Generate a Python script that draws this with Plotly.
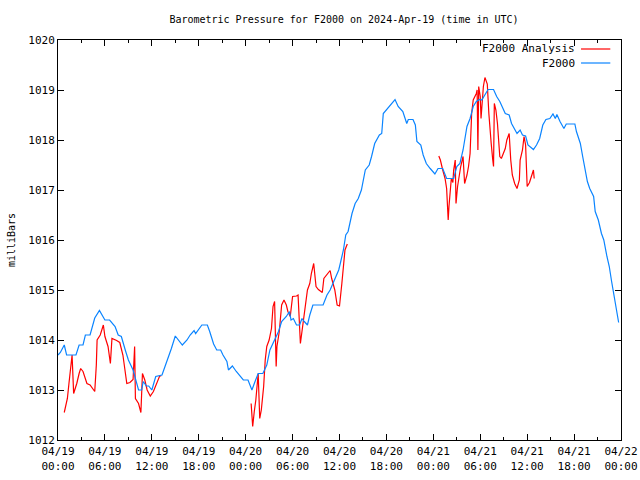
import plotly.graph_objects as go

# ---- data (hours since 2024-04-19 00:00 UTC, pressure in mb) ----
f2000_hours = [0.0, 0.3, 0.8, 1.1, 2.3, 2.7, 3.2, 3.5, 4.1, 4.7, 5.3, 5.6, 6.0, 6.6, 7.3, 7.7, 8.1, 8.6, 9.0, 9.6,
               10.3, 10.7, 10.9, 11.3, 11.6, 12.0, 12.5, 13.3, 13.7, 14.1, 14.5, 15.0, 15.4, 15.9, 16.5, 16.9, 17.4, 17.6,
               18.4, 19.1, 19.4, 19.9, 20.3, 20.8, 21.1, 21.6, 21.8, 22.3, 22.8, 23.3, 23.7, 24.3, 24.8, 25.2, 25.6, 26.2,
               26.7, 27.1, 27.7, 28.2, 28.6, 29.2, 29.6, 29.8, 30.1, 30.5, 30.9, 31.2, 31.5, 31.9, 32.2, 32.6, 33.9, 34.4,
               34.8, 35.4, 35.9, 36.1, 36.5, 36.8, 37.1, 37.6, 38.0, 38.4, 38.8, 39.3, 39.8, 40.1, 40.5, 41.1, 41.4, 41.6,
               42.0, 42.5, 43.1, 43.5, 44.1, 44.6, 44.8, 45.4, 45.7, 45.9, 46.4, 46.7, 47.1, 47.6, 48.2, 48.6, 49.2, 49.7,
               50.6, 51.0, 51.4, 51.8, 52.3, 52.7, 53.1, 53.5, 53.9, 54.2, 55.0, 55.7, 56.1, 56.5, 57.2, 57.7, 58.0, 58.7,
               59.1, 59.4, 59.8, 60.1, 60.8, 61.2, 61.6, 62.0, 62.4, 62.9, 63.3, 63.6, 63.8, 64.2, 64.7, 65.0, 66.1, 66.3,
               66.8, 67.1, 67.4, 67.7, 68.0, 68.5, 68.7, 69.1, 69.5, 69.8, 70.2, 70.5, 70.8, 71.1, 71.3, 71.6, 71.7]
f2000_mb = [1013.70, 1013.75, 1013.90, 1013.70, 1013.70, 1013.90, 1013.90, 1014.10, 1014.10, 1014.44, 1014.59, 1014.52,
            1014.40, 1014.40, 1014.27, 1014.10, 1014.07, 1013.80, 1013.60, 1013.40, 1013.00, 1013.00, 1013.17, 1013.08,
            1013.08, 1013.00, 1013.27, 1013.30, 1013.47, 1013.63, 1013.83, 1014.08, 1014.00, 1013.90, 1014.00, 1014.10,
            1014.19, 1014.13, 1014.30, 1014.30, 1014.17, 1013.92, 1013.80, 1013.80, 1013.70, 1013.57, 1013.40, 1013.48,
            1013.37, 1013.27, 1013.20, 1013.20, 1013.00, 1013.17, 1013.33, 1013.33, 1013.50, 1013.80, 1014.00, 1014.17,
            1014.37, 1014.47, 1014.57, 1014.40, 1014.43, 1014.30, 1014.30, 1014.43, 1014.37, 1014.30, 1014.50, 1014.70,
            1014.70, 1014.90, 1015.00, 1015.23, 1015.40, 1015.53, 1015.80, 1016.10, 1016.17, 1016.53, 1016.73, 1016.83,
            1017.00, 1017.40, 1017.50, 1017.67, 1017.93, 1018.10, 1018.13, 1018.53, 1018.61, 1018.70, 1018.81, 1018.67,
            1018.57, 1018.33, 1018.41, 1018.41, 1018.30, 1017.97, 1017.90, 1017.70, 1017.53, 1017.43, 1017.32, 1017.43,
            1017.43, 1017.23, 1017.23, 1017.47, 1017.53, 1017.80, 1018.27, 1018.43, 1018.67, 1018.77, 1018.81, 1018.80,
            1019.01, 1019.01, 1018.87, 1018.77, 1018.53, 1018.50, 1018.33, 1018.13, 1018.20, 1018.10, 1018.08, 1017.90,
            1017.81, 1017.90, 1018.03, 1018.30, 1018.41, 1018.43, 1018.52, 1018.43, 1018.51, 1018.37, 1018.23, 1018.32,
            1018.32, 1018.17, 1017.93, 1017.67, 1017.43, 1017.17, 1017.03, 1016.87, 1016.57, 1016.40, 1016.13, 1016.00,
            1015.67, 1015.47, 1015.17, 1014.87, 1014.67, 1014.40, 1014.35]

# Analysis series; None marks gaps in the record
analysis_hours = [0.8, 1.0, 1.2, 1.4, 1.6, 1.8, 2.0, 2.4, 2.7, 2.9, 3.2, 3.7, 4.1, 4.7, 4.9, 5.0, 5.4, 5.8, 6.0, 6.4,
                  6.7, 6.9, 7.5, 7.9, 8.3, 8.6, 8.8, 9.2, 9.6, 9.8, 9.9, 10.3, 10.6, 10.8, 11.1, 11.4, 11.8, 12.2, 12.6,
                  13.0, 13.2, None,
                  24.7, 24.9, 25.1, 25.3, 25.6, 25.8, 26.0, 26.3, 26.5, 26.7, 27.0, 27.3, 27.5, 27.7, 27.9, 28.0, 28.3,
                  28.6, 28.9, 29.2, 29.4, 29.7, 30.0, 30.5, 30.7, 30.9, 31.0, 31.2, 31.5, 31.7, 31.9, 32.2, 32.4, 32.7,
                  33.0, 33.3, 33.8, 34.0, 34.4, 34.8, 35.0, 35.4, 35.7, 36.0, 36.3, 36.5, 36.7, 37.0, None,
                  48.7, 48.9, 49.2, 49.5, 49.7, 49.9, 50.0, 50.2, 50.3, 50.5, 50.6, 50.8, 50.9, 51.1, 51.3, 51.5, 51.8,
                  52.0, 52.3, 52.5, 52.7, 52.9, 53.1, 53.5, 53.6, 53.7, 53.8, 54.0, 54.1, 54.4, 54.6, 54.9, 55.1, 55.3,
                  55.4, 55.6, 55.7, 55.8, 56.0, 56.2, 56.3, 56.5, 56.7, 57.2, 57.4, 57.7, 57.9, 58.1, 58.4, 58.7, 59.0,
                  59.1, 59.4, 59.6, 59.8, 59.9, 60.0, 60.3, 60.6, 60.8, 60.9]
analysis_mb = [1012.55, 1012.67, 1012.83, 1013.13, 1013.47, 1013.70, 1012.93, 1013.13, 1013.33, 1013.43, 1013.37,
               1013.13, 1013.10, 1012.97, 1013.50, 1014.00, 1014.10, 1014.30, 1014.07, 1013.87, 1013.53, 1014.03,
               1013.99, 1013.95, 1013.70, 1013.40, 1013.13, 1013.15, 1013.21, 1013.87, 1012.83, 1012.73, 1012.55,
               1013.33, 1013.20, 1013.00, 1012.88, 1012.97, 1013.13, 1013.28, 1013.28, None,
               1012.73, 1012.27, 1012.57, 1012.80, 1013.33, 1012.43, 1012.60, 1013.07, 1013.60, 1013.87, 1014.00,
               1014.23, 1014.67, 1014.77, 1013.47, 1013.87, 1014.17, 1014.70, 1014.80, 1014.70, 1014.57, 1014.47,
               1014.87, 1014.88, 1014.90, 1014.33, 1013.93, 1014.17, 1014.53, 1014.87, 1015.00, 1015.13, 1015.33,
               1015.53, 1015.07, 1015.01, 1014.95, 1015.23, 1015.30, 1015.39, 1015.23, 1015.00, 1014.70, 1014.68,
               1015.13, 1015.53, 1015.80, 1015.92, None,
               1017.68, 1017.60, 1017.40, 1017.23, 1017.03, 1016.40, 1016.67, 1016.97, 1017.23, 1017.15, 1017.40,
               1017.60, 1016.73, 1017.07, 1017.33, 1017.47, 1017.67, 1017.13, 1017.30, 1017.47, 1017.73, 1018.53,
               1018.80, 1018.93, 1019.00, 1017.80, 1019.07, 1018.87, 1018.43, 1019.07, 1019.25, 1019.12, 1018.53,
               1018.00, 1017.93, 1017.60, 1017.47, 1018.73, 1018.60, 1018.33, 1018.13, 1017.67, 1017.63, 1017.83,
               1018.00, 1018.13, 1017.60, 1017.30, 1017.13, 1017.03, 1017.20, 1017.60, 1017.80, 1018.07, 1017.90,
               1017.20, 1017.07, 1017.15, 1017.30, 1017.40, 1017.23]

x_tick_hours = [0, 6, 12, 18, 24, 30, 36, 42, 48, 54, 60, 66, 72]
x_tick_labels = ["04/19<br>00:00", "04/19<br>06:00", "04/19<br>12:00", "04/19<br>18:00",
                 "04/20<br>00:00", "04/20<br>06:00", "04/20<br>12:00", "04/20<br>18:00",
                 "04/21<br>00:00", "04/21<br>06:00", "04/21<br>12:00", "04/21<br>18:00",
                 "04/22<br>00:00"]
y_ticks = [1012, 1013, 1014, 1015, 1016, 1017, 1018, 1019, 1020]

series_names = ["F2000 Analysis", "F2000"]
series_colors = ["#ff0000", "#0a84ff"]

FONT = "DejaVu Sans Mono"
FS = 10
W, H = 640, 480

fig = go.Figure()
fig.add_trace(go.Scatter(x=analysis_hours, y=analysis_mb, mode="lines", name=series_names[0],
                         line=dict(color=series_colors[0], width=1.2), connectgaps=False,
                         showlegend=False, hoverinfo="skip"))
fig.add_trace(go.Scatter(x=f2000_hours, y=f2000_mb, mode="lines", name=series_names[1],
                         line=dict(color=series_colors[1], width=1.2),
                         showlegend=False, hoverinfo="skip"))

# legend (gnuplot style: text right-aligned, sample line to the right)
legend_rows_y = [0.9775, 0.9425]
for name, color, ly in zip(series_names, series_colors, legend_rows_y):
    fig.add_annotation(xref="paper", yref="paper", x=0.922, y=ly, text=name,
                       showarrow=False, xanchor="right", yanchor="middle",
                       font=dict(family=FONT, size=FS + 1, color="black"))
    fig.add_shape(type="line", xref="paper", yref="paper", x0=0.929, x1=0.981, y0=ly, y1=ly,
                  line=dict(color=color, width=1.2))

fig.update_layout(
    width=W, height=H,
    margin=dict(l=58, r=19, t=40, b=40, autoexpand=False),
    paper_bgcolor="white", plot_bgcolor="white",
    font=dict(family=FONT, size=FS, color="black"),
    title=dict(text="Barometric Pressure for F2000 on 2024-Apr-19 (time in UTC)",
               x=344 / W, xanchor="center", y=1 - 19 / H, yanchor="middle",
               font=dict(family=FONT, size=FS, color="black")),
    showlegend=False,
    hovermode=False,
)
fig.update_xaxes(range=[0, 72], tickvals=x_tick_hours, ticktext=x_tick_labels, automargin=False,
                 showgrid=False, zeroline=False, showline=True, linecolor="black", linewidth=1,
                 mirror="ticks", ticks="inside", ticklen=6, tickcolor="black",
                 minor=dict(dtick=3, tick0=0, ticks="inside", ticklen=3, tickcolor="black"),
                 tickfont=dict(family=FONT, size=FS + 1), ticklabelstandoff=1)
fig.update_yaxes(range=[1012, 1020], tickvals=y_ticks, ticktext=[str(v) for v in y_ticks], automargin=False,
                 showgrid=False, zeroline=False, showline=True, linecolor="black", linewidth=1,
                 mirror="ticks", ticks="inside", ticklen=6, tickcolor="black",
                 title=dict(text="milliBars", standoff=10, font=dict(family=FONT, size=FS)),
                 tickfont=dict(family=FONT, size=FS + 1))

# remove the default 8px page margin so the 640x480 figure fills the window exactly
fig.write_html("out.html", config={"displayModeBar": False},
               post_script="document.body.style.margin='0';document.body.style.overflow='hidden';")
